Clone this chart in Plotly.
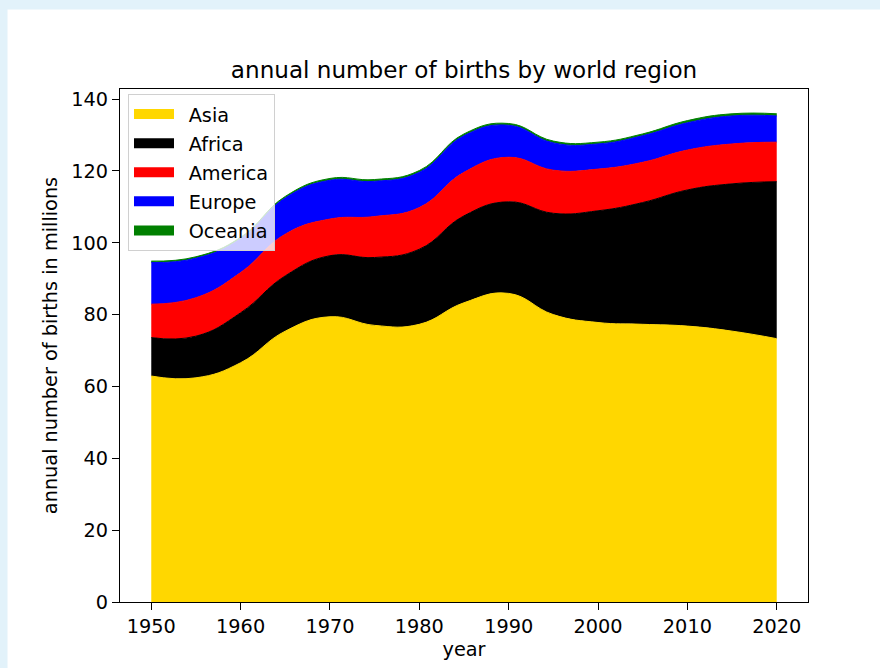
import plotly.graph_objects as go

years = [1950, 1955, 1960, 1965, 1970, 1975, 1980, 1985, 1990, 1995, 2000, 2005, 2010, 2015, 2020]
asia = [62.9, 62.4, 66.6, 75.4, 79.4, 77.0, 77.3, 83.3, 85.9, 80.0, 77.8, 77.3, 76.8, 75.4, 73.3]
africa = [10.7, 11.6, 13.9, 15.4, 17.0, 18.9, 20.9, 24.2, 25.5, 28.2, 31.1, 33.9, 37.9, 41.0, 43.7]
america = [9.3, 10.7, 11.2, 11.6, 10.2, 11.4, 11.6, 12.1, 12.4, 12.0, 11.6, 11.2, 11.1, 11.1, 11.0]
europe = [11.6, 11.0, 9.4, 10.1, 10.8, 9.8, 9.8, 10.2, 8.9, 7.6, 7.0, 7.4, 7.6, 7.8, 7.3]
oceania = [0.4, 0.4, 0.4, 0.4, 0.5, 0.5, 0.5, 0.5, 0.5, 0.5, 0.5, 0.5, 0.6, 0.6, 0.6]

series = [
    ("Asia", asia, "#FFD700"),
    ("Africa", africa, "#000000"),
    ("America", america, "#FF0000"),
    ("Europe", europe, "#0000FF"),
    ("Oceania", oceania, "#008000"),
]

FONT = "DejaVu Sans"
FS = 19.3
fig = go.Figure()
for i, (name, vals, col) in enumerate(series):
    fig.add_trace(go.Scatter(
        x=years, y=vals, name=name, stackgroup="one", mode="lines",
        line=dict(color=col, width=1, shape="spline", smoothing=1.3),
        fillcolor=col, legendgroup=f"g{i}", showlegend=False,
    ))
    # legend patch entry
    fig.add_trace(go.Scatter(
        x=[None], y=[None], name="\u2002" + name, mode="lines",
        line=dict(color=col, width=14), legendgroup=f"g{i}", showlegend=True,
    ))

W, H = 880, 668
L, R, T, B = 120, 72, 89, 66
pw, ph = W - L - R, H - T - B

def px(xp):
    return (xp - L) / pw

def py(yp):
    return (H - B - yp) / ph

shapes = [
    dict(type="rect", xref="paper", yref="paper", x0=px(0), x1=px(W), y0=py(9.5), y1=py(0),
         fillcolor="#e2f2fa", line=dict(width=0), layer="below"),
    dict(type="rect", xref="paper", yref="paper", x0=px(0), x1=px(7.5), y0=py(H), y1=py(0),
         fillcolor="#e2f2fa", line=dict(width=0), layer="below"),
]

fig.update_layout(
    width=W, height=H,
    margin=dict(l=L, r=R, t=T, b=B, pad=0),
    paper_bgcolor="white", plot_bgcolor="white",
    font=dict(family=FONT, size=FS, color="#000000"),
    title=dict(text="annual number of births by world region", x=0.5, xref="paper",
               xanchor="center", y=1 - 70 / H, yref="container", yanchor="middle",
               font=dict(size=23.1, family=FONT, color="#000000")),
    shapes=shapes,
    showlegend=True,
    legend=dict(x=px(128), y=py(94), xanchor="left", yanchor="top",
                bgcolor="rgba(255,255,255,0.8)", bordercolor="#d0d0d0", borderwidth=1,
                font=dict(size=FS, family=FONT), tracegroupgap=1, itemwidth=40,
                traceorder="grouped"),
    xaxis=dict(range=[1946.5, 2023.5], tickmode="array",
               tickvals=[1950, 1960, 1970, 1980, 1990, 2000, 2010, 2020],
               ticks="outside", ticklen=7, tickwidth=1.2, tickcolor="#000",
               showline=True, linecolor="#000", linewidth=1.2, mirror=True,
               showgrid=False, zeroline=False,
               title=dict(text="year", standoff=5, font=dict(size=FS)),
               tickfont=dict(size=FS)),
    yaxis=dict(range=[0, 142.8], tickmode="array",
               tickvals=[0, 20, 40, 60, 80, 100, 120, 140],
               ticks="outside", ticklen=7, tickwidth=1.2, tickcolor="#000",
               showline=True, linecolor="#000", linewidth=1.2, mirror=True,
               showgrid=False, zeroline=False,
               title=dict(text="annual number of births in millions", standoff=8, font=dict(size=FS)),
               tickfont=dict(size=FS)),
)

fig.write_html("out.html", config={"displayModeBar": False},
               post_script="document.body.style.margin='0px';")
